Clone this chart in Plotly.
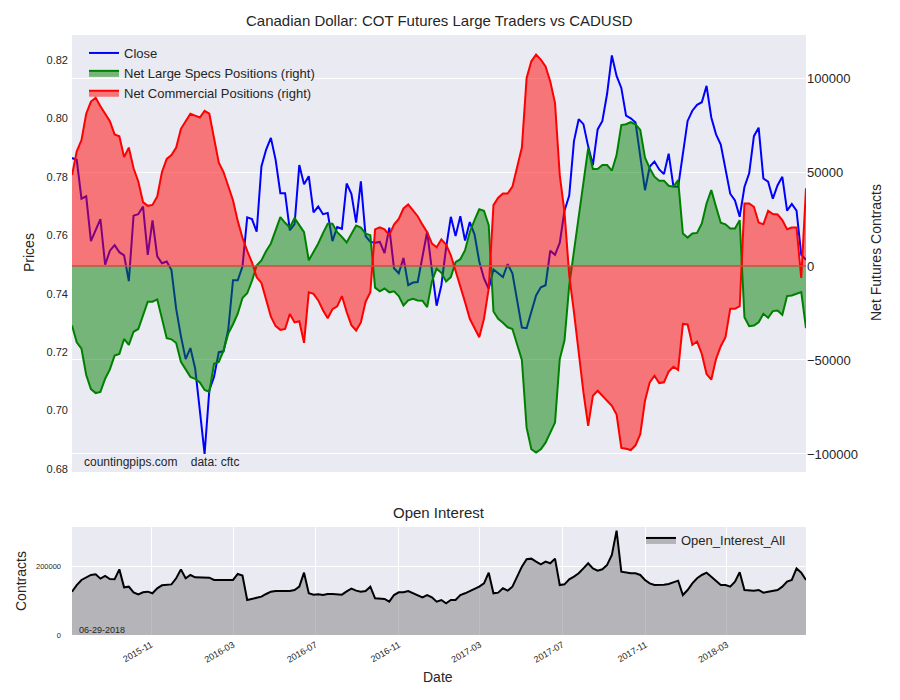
import pandas as pd
import plotly.graph_objects as go

# Weekly COT report dates (Tuesdays)
dates = pd.date_range("2015-07-07", periods=156, freq="7D")

close = [
    0.7864, 0.7858, 0.7725, 0.7733, 0.758, 0.762, 0.7655, 0.7499, 0.7547, 0.7566,
    0.7542, 0.7531, 0.7443, 0.7667, 0.7672, 0.7698, 0.7533, 0.7651, 0.7528, 0.7504,
    0.751, 0.7481, 0.7348, 0.7255, 0.7176, 0.7214, 0.7145, 0.700, 0.6852, 0.707,
    0.7116, 0.720, 0.7203, 0.7278, 0.7446, 0.7446, 0.7493, 0.7661, 0.7655, 0.7612,
    0.7835, 0.7893, 0.7933, 0.7858, 0.7744, 0.7744, 0.7617, 0.7638, 0.784, 0.7774,
    0.7802, 0.7678, 0.7698, 0.7672, 0.7676, 0.758, 0.7628, 0.7622, 0.7777, 0.7742,
    0.7643, 0.7784, 0.7597, 0.7577, 0.7574, 0.7577, 0.7539, 0.7626, 0.7487, 0.747,
    0.7522, 0.7429, 0.7438, 0.744, 0.7533, 0.7612, 0.7481,
    0.7359, 0.7429, 0.7557, 0.7663, 0.7597, 0.7665, 0.7582, 0.7645, 0.7603, 0.751,
    0.7452, 0.7417, 0.7483, 0.747, 0.7457, 0.7501, 0.747, 0.7377, 0.7284, 0.7282,
    0.7342, 0.7394, 0.7422, 0.7429, 0.7547, 0.7533, 0.7574, 0.7684, 0.7736, 0.7922,
    0.7997, 0.798, 0.7904, 0.784, 0.7962, 0.7991, 0.8084, 0.8215, 0.8145,
    0.8104, 0.8009, 0.80, 0.7986, 0.7875, 0.7754, 0.7835, 0.7852, 0.7825, 0.7809,
    0.7879, 0.7767, 0.7765, 0.7887, 0.7991, 0.8026, 0.8046, 0.8055, 0.8111, 0.8003,
    0.7945, 0.791, 0.7823, 0.7742, 0.7719, 0.7663, 0.7765, 0.7812, 0.7939, 0.7968,
    0.7794, 0.7783, 0.7725, 0.7771, 0.78, 0.7684, 0.7707, 0.7684, 0.7533, 0.7516,
]

# Net large speculator positions, thousands of contracts
large_specs_k = [
    -31.7, -40.6, -44, -58, -65.5, -67.6, -67, -60, -55, -47.7,
    -46.8, -38.8, -42, -35, -33.5, -26.3, -19, -19, -17.8, -28,
    -38.4, -39, -41, -51, -55, -59, -60, -62, -66, -67,
    -52, -51, -45, -36, -31, -25.4, -17, -14.5, -8, 0.3,
    3, 8, 12, 18.5, 26, 23, 20.5, 25.5, 22, 18,
    3, 7.5, 12, 17.5, 22.5, 22.5, 18, 15.5, 12.5, 17,
    21.5, 20.5, 17.2, 16.4, -11.5, -13.5, -12, -14, -13.5, -16,
    -21, -18.3, -17.4, -18.3, -18.5, -21.9, -8.2, -1.4,
    -3.6, -8.2, -5.9, 2.1, 3.6, 8.4, 18.1, 24.4, 30.2, 29.4,
    21.7, -24.2, -28.1, -30.2, -32.6, -33.5, -42.3, -50, -86, -97.5,
    -99.3, -97.5, -94, -88.6, -83.3, -49.5, -39.7, -10.3, 7.5, 26.2,
    42.2, 62.6, 51.6, 51.6, 53.7, 53.7, 50.7, 59, 75,
    75.4, 76.5, 75.4, 72.4, 57.7, 52, 47.5, 45.4, 45.4, 42.7,
    42.2, 45.7, 17.3, 15.1, 17.3, 17.6, 22.6, 33.3, 40.4, 31.5,
    23, 22.2, 19.9, 19.9, 24.4, -27.2, -32, -31.7, -29.9, -25.4,
    -27.6, -24, -23.7, -26, -16, -15.7, -14.8, -13.9, -33.1,
]

# Net commercial positions, thousands of contracts
commercial_k = [
    48.4, 61, 67, 81, 87.5, 89.5, 85, 81, 77, 70,
    69, 58, 63, 52, 45, 34, 32, 32.5, 37, 50,
    57, 59, 63, 73, 77, 81, 80, 79, 82.5, 81,
    68, 55, 50, 42, 35, 24, 15, 8, 2, -6,
    -9, -18, -27, -32, -34, -33.5, -25.5, -30, -29.4, -40.9,
    -14, -14.8, -18.3, -23.5, -27.8, -23, -21.5, -16, -24.5, -31.5,
    -34.3, -30, -19, -13.9, 19.5, 20.6, 19.5, 16.4, 22, 25,
    30.6, 32.7, 29.7, 26.5, 22, 18, 12, 10,
    14.2, 11.4, 5.7, -2.3, -10.3, -19.2, -28.1, -32.9, -37.9, -28.1,
    -12.1, 32.4, 36.3, 38.6, 38.6, 42.2, 52, 63, 100, 108.9,
    112.5, 109.8, 106.2, 98.2, 86.7, 48.4, 28.8, -5, -24.6, -45.9,
    -67.3, -85, -69, -66.4, -69, -71.7, -74.4, -79, -96.8,
    -97.2, -97.9, -95.4, -89.5, -71.7, -61.9, -58.4, -62.3, -61.9, -56.2,
    -53.6, -55.3, -30.8, -31.1, -42, -40.2, -46.8, -57.5, -60.5, -49.5,
    -42.7, -37.9, -22.8, -22.8, -21.4, 33.3, 33.3, 31.5, 23.1, 22.2,
    29.4, 27.6, 27.4, 24.4, 19.6, 20.5, 20.5, -6.4, 41.3,
]

# Open interest, thousands of contracts
open_interest_k = [
    126.8, 146, 161, 168.8, 175.6, 177.6, 164.9, 172.7, 163.9, 163,
    192, 139.5, 141.5, 124.9, 119, 124.9, 126.8, 122, 136.6, 145.4,
    146, 148, 166, 192, 166, 175.6, 168.8, 168.8, 168.8, 167.8,
    161, 161, 162, 161, 161, 178.5, 173.7, 102.4, 105.4, 109.3,
    112.2, 120, 126.8, 128.8, 128.8, 128.8, 128.8, 131.7, 141.5, 182.4,
    122, 118, 119, 117, 120, 120, 118, 118, 127.8, 135.6,
    129.8, 126.8, 128.8, 141.5, 107.3, 107.3, 105.4, 97.6, 117, 124.9,
    124.9, 128.8, 122, 117, 110.2, 117, 110.2, 97.6,
    102.4, 92.7, 102.4, 102.4, 117, 122, 128.8, 136.6, 141.5, 151,
    182.4, 122, 124, 136.6, 129.8, 141.5, 170.7, 200, 221.5, 223.4,
    214.6, 206.8, 214.6, 209.8, 223.4, 146.3, 148.3, 163, 170.7, 180.5,
    195, 209.8, 195, 188.3, 192.2, 204.9, 234, 305.4, 185.4, 182.4,
    180.5, 180.5, 175.6, 161, 151.2, 146.3, 146.3, 147.3, 149.3, 153.2,
    159, 117, 131.7, 151.2, 165.9, 175.6, 182.4, 170.7, 159, 146.3,
    146.3, 141.5, 156.1, 183.4, 131.7, 129.8, 129.8, 131.7, 124, 126.8,
    129.8, 131.7, 141.5, 156.1, 161, 195, 182.4, 161,
]

price_ticks = [0.68, 0.70, 0.72, 0.74, 0.76, 0.78, 0.80, 0.82]
net_ticks = [-100000, -50000, 0, 50000, 100000]
oi_ticks = [0, 200000]
date_ticks = ["2015-11-01", "2016-03-01", "2016-07-01", "2016-11-01",
              "2017-03-01", "2017-07-01", "2017-11-01", "2018-03-01"]
date_tick_labels = ["2015-11", "2016-03", "2016-07", "2016-11",
                    "2017-03", "2017-07", "2017-11", "2018-03"]

large_specs = [v * 1000 for v in large_specs_k]
commercial = [v * 1000 for v in commercial_k]
open_interest = [v * 1000 for v in open_interest_k]

W, H = 900, 700
FONT = "Liberation Sans, Arial, sans-serif"
TXT = "#262626"
BG = "#EAEAF2"

def px(x):
    return x / W

def py(y):
    return 1 - y / H

x_dom = [px(72), px(806)]

fig = go.Figure()
fig.add_trace(go.Scatter(
    x=dates, y=close, name="Close", mode="lines",
    line=dict(color="#0000ff", width=2), xaxis="x", yaxis="y", legend="legend"))
fig.add_trace(go.Scatter(
    x=dates, y=large_specs, name="Net Large Specs Positions (right)", mode="lines",
    fill="tozeroy", fillcolor="rgba(0,128,0,0.5)",
    line=dict(color="#008000", width=2), xaxis="x", yaxis="y2", legend="legend"))
fig.add_trace(go.Scatter(
    x=dates, y=commercial, name="Net Commercial Positions (right)", mode="lines",
    fill="tozeroy", fillcolor="rgba(255,0,0,0.5)",
    line=dict(color="#ff0000", width=2), xaxis="x", yaxis="y2", legend="legend"))
fig.add_trace(go.Scatter(
    x=dates, y=open_interest, name="Open_Interest_All", mode="lines",
    fill="tozeroy", fillcolor="rgba(128,128,128,0.5)",
    line=dict(color="#000000", width=2), xaxis="x2", yaxis="y3", legend="legend2"))

xr = [dates[0], dates[-1]]

fig.update_layout(
    width=W, height=H,
    margin=dict(l=0, r=0, t=0, b=0, autoexpand=False),
    paper_bgcolor="white", plot_bgcolor=BG,
    font=dict(family=FONT, color=TXT),
    xaxis=dict(domain=x_dom, anchor="y", range=xr, showticklabels=False,
               showgrid=False, zeroline=False, showline=False, ticks="",
               automargin=False),
    yaxis=dict(domain=[py(472), py(35)], anchor="x", range=[0.679, 0.8285],
               tickvals=price_ticks, ticktext=[f"{v:.2f}" for v in price_ticks],
               showgrid=False, zeroline=False, ticks="", automargin=False,
               ticklabelstandoff=3, tickfont=dict(size=11, color=TXT)),
    yaxis2=dict(overlaying="y", side="right", anchor="x",
                range=[-109600, 122900], tickvals=net_ticks,
                ticktext=[str(v).replace("-", "\u2212") for v in net_ticks],
                showgrid=True, gridcolor="white", gridwidth=1, zeroline=False,
                ticks="", automargin=False, tickfont=dict(size=13, color=TXT)),
    xaxis2=dict(domain=x_dom, anchor="y3", range=xr,
                tickvals=date_ticks, ticktext=date_tick_labels, tickangle=-30,
                tickfont=dict(size=9, color=TXT), showgrid=True,
                gridcolor="white", gridwidth=1, zeroline=False, ticks="",
                automargin=False, ticklabelstandoff=2),
    yaxis3=dict(domain=[py(635), py(527)], anchor="x2", range=[0, 316000],
                tickvals=oi_ticks, ticktext=[str(v) for v in oi_ticks],
                tickfont=dict(size=7.5, color=TXT), showgrid=True,
                gridcolor="white", gridwidth=1, zeroline=False, ticks="",
                automargin=False, ticklabelstandoff=10),
    legend=dict(x=px(84), y=py(38), xanchor="left", yanchor="top",
                bgcolor="rgba(0,0,0,0)", font=dict(size=13, color=TXT),
                tracegroupgap=0),
    legend2=dict(x=px(641), y=py(525), xanchor="left", yanchor="top",
                 bgcolor="rgba(0,0,0,0)", font=dict(size=13, color=TXT)),
    showlegend=True,
)

fig.add_shape(type="line", xref="x", yref="y2", x0=dates[0], x1=dates[-1],
              y0=0, y1=0, line=dict(color="rgb(195,80,60)", width=1.5),
              layer="above")

annos = [
    dict(x=px(439), y=py(20), text="Canadian Dollar: COT Futures Large Traders vs CADUSD",
         font=dict(size=15)),
    dict(x=px(439), y=py(512), text="Open Interest", font=dict(size=15)),
    dict(x=px(29), y=py(253), text="Prices", font=dict(size=14), textangle=-90),
    dict(x=px(876), y=py(253), text="Net Futures Contracts", font=dict(size=14), textangle=-90),
    dict(x=px(21), y=py(581), text="Contracts", font=dict(size=14), textangle=-90),
    dict(x=px(438), y=py(677), text="Date", font=dict(size=14)),
    dict(x=px(82), y=py(462), text="countingpips.com    data: cftc", font=dict(size=12),
         xanchor="left"),
    dict(x=px(77), y=py(630), text="06-29-2018", font=dict(size=9), xanchor="left"),
]
for a in annos:
    a.setdefault("xanchor", "center")
    fig.add_annotation(xref="paper", yref="paper", showarrow=False, yanchor="middle",
                       font_family=FONT, font_color=TXT, **{k: v for k, v in a.items()})

fig.write_html("out.html", config={"displayModeBar": False},
               post_script="document.body.style.margin='0';document.body.style.overflow='hidden';")
